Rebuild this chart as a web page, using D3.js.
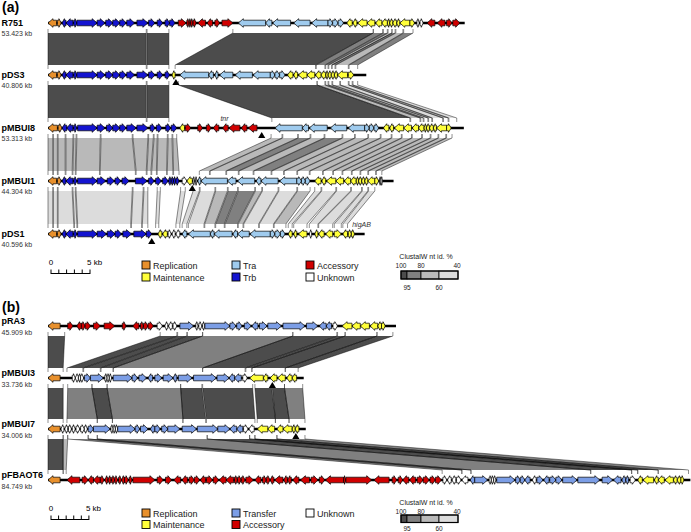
<!DOCTYPE html>
<html><head><meta charset="utf-8">
<script src="https://cdn.jsdelivr.net/npm/d3@7"></script>
<style>body{margin:0;background:#fff}svg{display:block}text{font-family:"Liberation Sans",Arial,Helvetica,sans-serif}</style>
</head><body><svg id="c" width="691" height="532"></svg>
<script>
// ---------------- DATA (kb) : [start, end, strand, category] ----------------
const R751_genes = [[0,1.1,-1,"R"],[1.2,1.7,1,"R"],
[1.8,2.3,-1,"B"],[2.3,3.2,-1,"B"],[3.3,3.7,1,"B"],[3.7,6.3,1,"B"],[6.3,7.3,1,"B"],[7.4,8.3,1,"B"],[8.3,9.2,1,"B"],[9.2,10.0,1,"B"],[10.1,11.1,1,"B"],[11.4,12.8,1,"B"],[12.9,13.7,1,"B"],[14.0,14.7,1,"B"],[15.0,15.6,1,"B"],[15.6,16.3,1,"B"],
[16.7,17.7,1,"A"],[17.8,18.1,1,"A"],[18.1,18.3,1,"A"],[18.3,18.6,1,"A"],[18.6,19.0,1,"A"],[19.2,20.2,-1,"A"],[20.4,21.1,-1,"A"],[21.4,22.0,1,"A"],[22.3,23.7,1,"A"],
[24.4,27.9,-1,"T"],[27.9,28.7,-1,"T"],[28.8,31.1,-1,"T"],[31.5,33.6,-1,"T"],[33.8,35.9,-1,"T"],[35.9,36.5,1,"T"],[36.5,37.2,1,"T"],[37.2,37.9,1,"T"],
[38.3,39.0,-1,"M"],[39.1,39.6,-1,"M"],[39.7,40.9,-1,"M"],[40.9,41.9,-1,"M"],[42.0,42.8,-1,"M"],[42.8,43.5,-1,"M"],[43.5,43.8,-1,"M"],[43.8,44.2,-1,"M"],[44.2,44.7,-1,"M"],[44.7,45.1,-1,"M"],[45.1,46.4,-1,"M"],[46.4,47.0,1,"M"],
[47.3,47.6,1,"U"],[47.7,48.1,1,"U"],
[48.6,49.6,-1,"A"],[49.9,50.9,-1,"A"],[51.1,51.8,1,"A"],[51.9,52.8,1,"A"]];

const pDS3_genes = [[0,1.1,-1,"R"],[1.2,1.7,1,"R"],
[1.8,2.3,-1,"B"],[2.3,3.2,-1,"B"],[3.3,3.7,1,"B"],[3.7,6.3,1,"B"],[6.3,7.3,1,"B"],[7.4,8.3,1,"B"],[8.3,9.2,1,"B"],[9.2,10.0,1,"B"],[10.1,11.1,1,"B"],[11.4,12.8,1,"B"],[12.9,13.7,1,"B"],[14.0,14.7,1,"B"],[15.0,15.6,1,"B"],
[15.9,16.3,-1,"M"],
[16.9,20.6,-1,"T"],[20.6,21.2,-1,"T"],[21.4,21.8,-1,"T"],[22.0,23.7,-1,"T"],[24.0,26.2,-1,"T"],[26.3,28.5,-1,"T"],[28.5,29.1,1,"T"],[29.1,29.7,1,"T"],[29.7,30.4,1,"T"],
[30.7,31.4,-1,"M"],[31.5,32.0,-1,"M"],[32.1,33.2,-1,"M"],[33.2,34.2,-1,"M"],[34.3,35.0,-1,"M"],[35.0,35.6,-1,"M"],[35.6,35.9,-1,"M"],[35.9,36.3,-1,"M"],[36.3,36.7,-1,"M"],[36.7,37.1,-1,"M"],[37.1,38.4,-1,"M"],[38.5,39.2,1,"M"]];

const pMBUI8_genes = [[0,1.2,-1,"R"],[1.3,1.8,1,"R"],
[1.8,2.4,-1,"B"],[2.4,3.2,-1,"B"],[3.3,3.7,1,"B"],[3.8,6.3,1,"B"],[6.3,7.3,1,"B"],[7.5,8.3,1,"B"],[8.3,9.2,1,"B"],[9.2,10.0,1,"B"],[10.1,11.3,1,"B"],[11.4,12.8,1,"B"],[13.1,13.7,1,"B"],[13.9,14.6,1,"B"],[15.1,15.7,1,"B"],[15.8,16.5,1,"B"],
[16.9,17.5,-1,"M"],
[17.6,18.3,1,"A"],[19.2,19.8,1,"A"],[20.3,20.9,1,"A"],[21.2,21.9,-1,"A"],[22.4,23.1,-1,"A"],[23.2,24.6,-1,"A"],[24.8,25.5,-1,"A"],[25.7,26.8,-1,"A"],
[29.1,32.6,-1,"T"],[32.6,33.4,-1,"T"],[33.5,35.8,-1,"T"],[36.2,38.3,-1,"T"],[38.5,40.6,-1,"T"],[40.6,41.2,1,"T"],[41.2,41.8,1,"T"],[41.8,42.4,1,"T"],
[43.0,43.7,-1,"M"],[43.8,44.3,-1,"M"],[44.4,45.6,-1,"M"],[45.6,46.6,-1,"M"],[46.7,47.5,-1,"M"],[47.5,48.2,-1,"M"],[48.2,48.5,-1,"M"],[48.5,48.9,-1,"M"],[48.9,49.4,-1,"M"],[49.4,49.8,-1,"M"],[49.8,51.1,-1,"M"],[51.1,51.7,1,"M"]];

const pMBUI1_genes = [[0,1.1,-1,"R"],[1.2,1.7,1,"R"],
[1.8,2.3,-1,"B"],[2.3,3.2,-1,"B"],[3.3,3.7,1,"B"],[3.8,6.3,1,"B"],[6.3,7.4,1,"B"],[7.6,8.5,1,"B"],[8.6,9.3,1,"B"],[9.5,10.4,1,"B"],[11.2,12.7,1,"B"],[12.9,13.6,1,"B"],[13.8,14.5,1,"B"],[14.7,15.4,1,"B"],[15.5,15.8,1,"B"],[15.8,16.1,1,"B"],[16.1,16.4,1,"B"],[16.4,16.8,1,"B"],
[17.2,17.8,1,"U"],[17.8,18.5,-1,"M"],[18.6,18.8,1,"U"],[18.9,19.1,1,"U"],
[19.2,19.6,-1,"T"],[19.6,23.0,-1,"T"],[23.0,24.1,-1,"T"],[24.3,26.5,-1,"T"],[26.7,27.3,-1,"T"],[27.3,29.5,-1,"T"],[29.7,31.9,-1,"T"],[31.9,32.5,1,"T"],[32.5,33.0,1,"T"],[33.0,33.6,1,"T"],
[34.2,35.0,-1,"M"],[35.1,35.6,-1,"M"],[35.7,36.9,-1,"M"],[36.9,37.9,-1,"M"],[38.0,38.8,-1,"M"],[38.8,39.5,-1,"M"],[39.5,39.8,-1,"M"],[39.8,40.2,-1,"M"],[40.2,40.6,-1,"M"],[40.6,41.0,-1,"M"],[41.0,41.9,-1,"M"],[41.9,42.4,1,"M"],
[42.5,42.7,1,"U"],[42.7,42.9,1,"U"]];

const pDS1_genes = [[0,1.1,-1,"R"],[1.2,1.7,1,"R"],
[1.8,2.3,-1,"B"],[2.3,3.2,-1,"B"],[3.3,3.7,1,"B"],[3.8,6.3,1,"B"],[6.3,7.5,1,"B"],[7.6,8.6,1,"B"],[8.6,9.4,1,"B"],[9.6,10.7,1,"B"],[11.0,12.6,1,"B"],[12.6,13.3,1,"B"],
[14.1,14.6,-1,"M"],[14.7,15.3,-1,"M"],[15.4,15.8,1,"U"],[15.9,16.3,-1,"U"],[16.4,16.9,-1,"U"],
[17.2,17.8,-1,"T"],[18.0,20.8,-1,"T"],[20.8,21.3,-1,"T"],[21.3,23.6,-1,"T"],[23.7,24.3,-1,"T"],[24.3,25.8,-1,"T"],[25.9,28.5,-1,"T"],[28.5,29.1,1,"T"],[29.1,29.8,1,"T"],[29.8,30.4,1,"T"],
[30.8,31.3,-1,"M"],[31.5,31.9,-1,"M"],[32.1,33.2,-1,"M"],[33.5,33.8,-1,"U"],[34.2,34.6,-1,"M"],[34.7,35.4,-1,"M"],[35.6,36.5,-1,"M"],[36.7,37.6,1,"M"],[37.8,38.4,-1,"M"],[38.5,38.9,1,"M"],[38.9,39.3,1,"M"]];

const pRA3_genes = [[0,1.6,-1,"R"],
[2.6,3.3,1,"A"],[3.8,4.4,-1,"A"],[4.4,4.9,1,"A"],[4.9,5.6,1,"A"],[6.0,6.9,1,"A"],[7.4,8.8,1,"A"],[9.8,10.3,1,"A"],[11.2,12.0,-1,"A"],[12.2,12.6,1,"A"],[12.6,13.2,1,"A"],[13.2,13.9,1,"A"],
[14.4,15.1,1,"U"],[15.4,15.8,-1,"U"],[15.9,16.4,-1,"U"],[16.5,17.0,1,"U"],
[17.4,19.2,1,"P"],[19.5,19.8,1,"U"],[19.9,20.3,1,"U"],[20.4,20.7,1,"U"],[20.7,24.0,1,"P"],[24.0,24.8,1,"P"],[24.9,25.6,1,"P"],[25.9,26.8,1,"P"],[26.9,27.7,-1,"P"],[27.9,28.9,1,"P"],[29.0,30.8,1,"P"],[31.0,33.9,1,"P"],[34.1,35.6,1,"P"],[35.8,36.7,-1,"P"],[36.7,37.4,-1,"P"],
[37.6,38.2,1,"U"],
[38.8,40.1,-1,"M"],[40.1,41.2,-1,"M"],[41.2,42.4,-1,"M"],[42.5,43.5,-1,"M"],[43.5,44.0,-1,"M"],[44.0,44.5,1,"M"]];

const pMBUI3_genes = [[0,1.6,-1,"R"],
[3.2,3.6,1,"U"],[3.6,4.0,-1,"U"],[4.0,4.3,-1,"U"],[4.3,4.7,1,"U"],
[4.8,5.6,1,"P"],[5.6,7.3,1,"P"],[7.5,7.8,1,"U"],[7.8,8.1,1,"U"],[8.1,8.4,1,"U"],[8.6,11.1,1,"P"],[11.1,11.8,1,"P"],[12.0,13.0,1,"P"],[13.2,13.8,-1,"P"],[14.1,15.0,1,"P"],[15.2,16.5,1,"P"],[16.5,17.0,-1,"P"],[17.2,19.0,1,"P"],[19.2,22.2,1,"P"],[22.3,23.9,1,"P"],[23.9,24.6,-1,"P"],[24.6,25.5,-1,"P"],
[25.7,26.3,1,"U"],
[26.6,28.4,-1,"M"],[28.4,29.0,-1,"M"],[29.3,30.2,-1,"M"],[30.3,31.3,-1,"M"],[31.5,32.2,-1,"M"],[32.2,32.8,-1,"M"]];

const pMBUI7_genes = [[0,1.6,-1,"R"],
[1.7,2.1,-1,"U"],[2.2,2.6,-1,"U"],[2.7,3.1,1,"U"],[3.2,3.6,1,"U"],[3.7,4.2,1,"U"],[4.3,4.8,1,"U"],[4.8,5.2,1,"U"],
[5.3,6.0,1,"P"],[6.0,8.2,1,"P"],[8.3,8.6,1,"U"],[8.6,8.9,1,"U"],[8.9,9.2,1,"U"],[9.2,11.5,1,"P"],[11.5,12.1,1,"P"],[12.2,13.2,1,"P"],[13.5,14.1,-1,"P"],[14.1,14.8,1,"P"],[15.0,15.8,1,"P"],[15.8,17.4,1,"P"],[17.7,19.6,1,"P"],[19.7,22.4,1,"P"],[22.4,24.0,1,"P"],[24.0,24.9,-1,"P"],[24.9,25.7,-1,"P"],
[25.8,26.4,1,"U"],[26.5,27.2,-1,"U"],
[27.6,29.0,-1,"M"],[29.0,29.9,-1,"M"],[30.2,31.0,-1,"M"],[31.0,32.2,-1,"M"],[32.2,32.6,-1,"M"],[32.6,33.1,-1,"M"]];

const pFBAOT6_genes = [[0,1.6,-1,"R"],
[2.5,4.2,-1,"A"],[4.5,5.3,1,"A"],[5.3,6.0,-1,"A"],[6.0,6.9,-1,"A"],[6.9,7.4,1,"A"],
[7.5,7.9,-1,"A"],[7.9,8.3,-1,"A"],[8.4,8.8,1,"A"],[8.8,9.2,1,"A"],[9.3,9.7,1,"A"],[9.7,10.1,-1,"A"],[10.1,10.6,1,"A"],[10.7,11.1,1,"A"],
[11.2,14.1,1,"A"],[14.4,15.2,1,"A"],[15.5,16.3,1,"A"],[16.6,17.5,-1,"A"],[17.7,18.4,-1,"A"],[18.6,19.3,1,"A"],[19.3,20.0,1,"A"],[20.1,20.8,-1,"A"],[20.9,21.7,1,"A"],[21.8,22.5,1,"A"],[22.6,23.5,-1,"A"],[23.5,24.5,-1,"A"],[24.6,25.0,1,"A"],[25.0,25.5,1,"A"],[25.5,26.0,1,"A"],[26.1,27.1,1,"A"],[27.3,28.1,-1,"A"],[28.3,28.8,1,"A"],[28.8,29.3,1,"A"],[29.3,29.8,-1,"A"],[29.9,31.0,-1,"A"],[31.1,31.6,-1,"A"],[31.6,32.1,-1,"A"],[32.3,33.1,-1,"A"],[33.3,34.5,-1,"A"],[34.7,35.6,1,"A"],[35.8,36.5,1,"A"],[36.6,39.0,-1,"A"],[39.0,39.3,1,"A"],[39.3,42.7,1,"A"],[43.0,45.0,-1,"A"],[45.4,46.0,1,"A"],[46.2,46.8,1,"A"],[46.8,47.6,-1,"A"],[47.7,48.5,-1,"A"],[48.7,49.5,1,"A"],[49.5,50.3,1,"A"],[50.4,51.1,1,"A"],[51.1,51.9,1,"A"],
[52.1,52.6,1,"U"],[52.7,53.2,-1,"U"],[53.3,53.8,-1,"U"],[53.9,54.5,1,"U"],[54.6,55.4,-1,"U"],
[55.7,56.3,-1,"P"],[56.3,58.0,1,"P"],[58.2,58.5,1,"U"],[58.5,58.8,1,"U"],[58.8,59.1,1,"U"],[59.2,61.6,1,"P"],[61.7,62.3,1,"P"],[62.3,62.9,1,"P"],[62.9,63.6,-1,"P"],[63.9,64.4,-1,"U"],[64.5,65.3,1,"P"],[65.4,66.1,-1,"P"],[66.2,67.0,1,"P"],[67.0,67.8,1,"P"],[67.9,69.8,1,"P"],[69.9,72.8,1,"P"],[73.1,74.5,1,"P"],[74.6,75.6,-1,"P"],[75.7,76.2,-1,"P"],[76.2,76.6,-1,"P"],[76.8,77.5,1,"U"],
[77.8,78.4,-1,"M"],[78.5,79.9,-1,"M"],[80.0,80.5,-1,"M"],[80.5,81.3,-1,"M"],[81.4,82.5,-1,"M"],[82.5,83.0,-1,"M"],[83.0,83.5,-1,"M"],[83.5,83.9,1,"M"]];

// alignment blocks: [upperStart, upperEnd, lowerStart, lowerEnd, % identity]
const blocks_R751_pDS3 = [[0,12.6,0,12.6,98],[12.7,15.5,12.7,15.5,98],[23.7,41.7,16.3,34.3,97],[41.7,42.9,34.4,35.5,88],[43.0,43.5,35.6,35.9,88],[43.6,44.1,36.0,36.4,70],[44.1,44.5,36.4,36.8,88],[44.6,45.5,36.9,38.5,70],[45.6,46.8,38.6,39.7,88]];
const blocks_pDS3_pMBUI8 = [[0,12.6,0,12.6,98],[12.7,15.5,12.7,15.5,98],[16.7,34.5,28.7,46.4,97],[34.5,35.5,46.5,47.7,70],[35.6,35.9,47.8,48.1,70],[36.0,36.4,48.2,48.7,50],[36.5,37.4,48.8,49.2,70],[37.5,38.5,49.3,50.6,50],[38.6,39.0,50.7,51.3,70],[39.1,39.7,51.4,52.4,50]];
const blocks_pMBUI8_pMBUI1 = [[0,0.6,0,0.6,70],[0.7,1.2,0.7,1.2,70],[1.3,2.2,1.3,2.2,70],[2.3,3.2,2.3,3.1,70],[3.3,3.6,3.2,3.5,70],[3.7,6.7,3.6,6.6,70],[6.8,10.8,6.7,11.2,70],[10.9,12.8,11.3,12.6,70],[12.9,13.5,12.7,13.2,70],[13.6,14.0,13.3,13.9,70],[14.1,15.3,14.0,15.2,70],[15.4,15.9,15.3,16.0,70],[16.0,16.5,16.1,16.8,70],
[28.6,30.0,19.4,20.7,70],[30.1,32.0,20.8,22.8,70],[32.1,33.6,22.9,24.4,85],[33.7,35.4,24.5,26.3,70],[35.5,37.7,26.4,28.6,85],[37.8,39.3,28.7,30.2,70],[39.4,41.0,30.3,31.9,70],[41.1,42.6,32.0,33.5,70],[42.7,44.0,33.6,35.2,70],[44.1,45.3,35.3,36.5,70],[45.4,46.6,36.6,37.7,70],[46.7,47.9,37.8,38.9,70],[48.0,49.0,39.0,40.0,70],[49.1,50.0,40.1,41.0,70],[50.1,51.0,41.1,42.0,70],[51.1,51.8,42.1,42.8,70]];
const blocks_pMBUI1_pDS1 = [[0,0.6,0,0.6,50],[0.7,1.2,0.7,1.2,50],[1.3,3.1,1.3,3.3,50],[3.2,3.5,3.4,3.7,50],[3.6,10.8,3.8,10.6,50],[10.9,12.2,10.7,12.0,50],[12.3,12.8,12.1,12.8,50],[14.0,14.4,13.8,14.2,50],
[17.0,17.6,16.4,16.9,50],[18.6,19.4,17.2,17.8,50],[19.5,21.4,18.0,20.0,50],[21.5,23.0,20.1,21.4,70],[23.1,24.3,21.5,22.6,85],[24.4,26.5,22.7,24.3,85],[26.6,27.4,24.4,25.0,70],[27.5,29.5,25.1,27.0,50],[29.6,31.9,27.1,28.9,50],[32.0,33.6,29.0,30.5,70],[34.2,35.0,30.8,31.3,50],[35.1,36.9,31.5,33.2,50],[37.0,38.8,33.5,34.6,50],[38.9,40.2,34.7,36.5,50],[40.3,41.0,36.7,37.6,50],[41.1,41.9,37.8,38.4,50]];

const blocks_pRA3_pMBUI3 = [[0,2.2,0,2.0,98],[14.8,17.0,2.5,4.6,97],[17.1,18.3,4.7,6.9,97],[18.4,20.4,7.0,8.6,97],[20.4,32.3,8.6,20.4,88],[32.3,38.1,20.4,26.0,97],[38.2,39.2,26.1,26.9,97],[39.2,43.4,26.9,31.3,97],[43.4,45.5,31.3,33.0,97]];
const blocks_pMBUI3_pMBUI7 = [[0,2.0,0,2.0,98],[2.6,5.8,2.5,6.5,88],[5.8,7.8,6.5,8.5,97],[7.8,17.5,8.5,17.8,88],[17.5,20.3,17.8,20.8,97],[20.4,27.0,20.9,27.3,97],[27.3,29.5,27.6,30.0,97],[29.6,31.2,30.0,31.8,97],[31.2,33.6,31.8,33.9,88]];
const blocks_pMBUI7_pFBAOT6 = [[0,2.0,0,2.0,98],[2.0,2.6,2.0,2.4,70],[2.6,5.3,52.0,54.6,88],[5.3,6.5,54.6,55.8,88],[6.5,21.0,55.8,71.6,88],[21.0,26.6,71.6,77.0,96],[26.6,27.3,77.0,77.8,88],[27.3,30.2,77.8,80.5,96],[30.2,33.9,80.5,84.5,88]];

const panelA_names = ["R751","pDS3","pMBUI8","pMBUI1","pDS1"];
const panelA_sizes = [53.423,40.806,53.313,44.304,40.596];
const panelB_names = ["pRA3","pMBUI3","pMBUI7","pFBAOT6"];
const panelB_sizes = [45.909,33.736,34.006,84.749];
const panelA_markers = [["pDS3",16.4],["pMBUI8",27.4],["pMBUI1",18.5],["pDS1",13.3]];
const panelB_markers = [["pMBUI3",29.6],["pMBUI7",32.7]];
const panelA_notes = [["pMBUI8","tnr",22.1],["pDS1","higAB",39.0]];
const legendA = [["Replication","R"],["Maintenance","M"],["Tra","T"],["Trb","B"],["Accessory","A"],["Unknown","U"]];
const legendB = [["Replication","R"],["Maintenance","M"],["Transfer","P"],["Accessory","A"],["Unknown","U"]];
const idTopLabels = ["100","80","40"];
const idBottomLabels = ["95","60"];

// ---------------- RENDER ----------------
const svg = d3.select("#c");
const catColor = {R:"#e8902c",M:"#ffff3a",T:"#9fcbee",B:"#1414d0",A:"#d00000",U:"#ffffff",P:"#7c9ee6"};
const idColor = d3.scaleThreshold().domain([60,80,95]).range(["#dcdcdc","#b9b9b9","#808080","#4c4c4c"]);

function genePath(x1,x2,s,y){
  const w=x2-x1,h=2.8,H=4.3,hl=Math.min(5,w*0.6);
  if(s>0) return `M${x1},${y-h}L${x2-hl},${y-h}L${x2-hl},${y-H}L${x2},${y}L${x2-hl},${y+H}L${x2-hl},${y+h}L${x1},${y+h}Z`;
  return `M${x2},${y-h}L${x1+hl},${y-h}L${x1+hl},${y-H}L${x1},${y}L${x1+hl},${y+H}L${x1+hl},${y+h}L${x2},${y+h}Z`;
}

function drawPanel(p){
  const maxL=d3.max(p.sizes);
  const x=d3.scaleLinear().domain([0,maxL]).range([48,48+maxL*p.pxPerKb]);
  const g=svg.append("g");
  p.blocks.forEach((bl,i)=>{
    const yt=p.rows[i]+10, yb=p.rows[i+1]-10;
    g.append("g").selectAll("path").data(bl).join("path")
      .attr("d",d=>`M${x(d[0])},${yt}L${x(d[1])},${yt}L${x(d[3])},${yb}L${x(d[2])},${yb}Z`)
      .attr("fill",d=>idColor(d[4])).attr("stroke","none");
    const edges=[];
    bl.forEach(d=>{edges.push([d[0],d[2]]);edges.push([d[1],d[3]]);});
    g.append("g").selectAll("line").data(edges).join("line")
      .attr("x1",d=>x(d[0])).attr("y1",yt).attr("x2",d=>x(d[1])).attr("y2",yb)
      .attr("stroke","#000").attr("stroke-width",0.45);
    g.append("g").selectAll("line").data(edges).join("line")
      .attr("x1",d=>x(d[0])).attr("x2",d=>x(d[0])).attr("y1",yt-4).attr("y2",yt)
      .attr("stroke","#222").attr("stroke-width",0.5);
    g.append("g").selectAll("line").data(edges).join("line")
      .attr("x1",d=>x(d[1])).attr("x2",d=>x(d[1])).attr("y1",yb).attr("y2",yb+4)
      .attr("stroke","#222").attr("stroke-width",0.5);
  });
  p.names.forEach((n,i)=>{
    const y=p.rows[i];
    g.append("line").attr("x1",x(0)).attr("x2",x(p.sizes[i])).attr("y1",y).attr("y2",y)
      .attr("stroke","#000").attr("stroke-width",2.4);
    g.append("g").selectAll("path").data(p.genes[i]).join("path")
      .attr("d",d=>genePath(x(d[0]),x(d[1]),d[2],y))
      .attr("fill",d=>catColor[d[3]]).attr("stroke","#000").attr("stroke-width",0.7).attr("stroke-linejoin","miter");
    g.append("text").attr("x",1.5).attr("y",y+p.nameDy).attr("font-size",9).attr("font-weight","bold").text(n);
    g.append("text").attr("x",1.5).attr("y",y+p.sizeDy).attr("font-size",7).attr("fill","#333").text(p.sizes[i].toFixed(3)+" kb");
  });
  p.markers.forEach(m=>{
    const i=p.names.indexOf(m[0]),y=p.rows[i],cx=x(m[1]);
    g.append("path").attr("d",`M${cx},${y+4}L${cx-3.6},${y+10}L${cx+3.6},${y+10}Z`).attr("fill","#000");
  });
  (p.notes||[]).forEach(m=>{
    const i=p.names.indexOf(m[0]),y=p.rows[i];
    g.append("text").attr("x",x(m[2])).attr("y",y-7).attr("font-size",7).attr("font-style","italic").attr("fill","#333").text(m[1]);
  });
  g.append("text").attr("x",2).attr("y",p.letterY).attr("font-size",14).attr("font-weight","bold").text(p.letter);
  // scale bar
  const L=p.scaleY;
  g.append("text").attr("x",x(0)+3).attr("y",L).attr("font-size",8).attr("text-anchor","middle").text("0");
  g.append("text").attr("x",x(5)).attr("y",L).attr("font-size",8).text("5 kb");
  g.append("line").attr("x1",x(0)+3).attr("x2",x(5)+3).attr("y1",L+8.5).attr("y2",L+8.5).attr("stroke","#000").attr("stroke-width",1);
  g.append("g").selectAll("line").data(d3.range(0,6)).join("line")
    .attr("x1",d=>x(d)+3).attr("x2",d=>x(d)+3).attr("y1",L+4.5).attr("y2",L+9).attr("stroke","#000").attr("stroke-width",1);
  // category legend
  const cols=[142,232,306];
  p.legend.forEach((it,k)=>{
    const c=p.legendCols[k], r=p.legendRows[k];
    const lx=cols[c], ly=p.legendY+r*p.legendGap;
    g.append("rect").attr("x",lx).attr("y",ly).attr("width",8).attr("height",8)
      .attr("fill",catColor[it[1]]).attr("stroke","#000").attr("stroke-width",0.9);
    g.append("text").attr("x",lx+11).attr("y",ly+7.5).attr("font-size",9).attr("fill","#222").text(it[0]);
  });
  // identity legend
  const C=p.clustal;
  g.append("text").attr("x",426).attr("y",C[0]).attr("font-size",7).attr("text-anchor","middle").attr("fill","#222").text("ClustalW nt id. %");
  const cellX=[401,407,421,439,458], ids=[97,88,70,50];
  ids.forEach((v,k)=>{
    g.append("rect").attr("x",cellX[k]).attr("y",C[2]).attr("width",cellX[k+1]-cellX[k]).attr("height",C[3])
      .attr("fill",idColor(v)).attr("stroke","#000").attr("stroke-width",0.8);
  });
  g.append("rect").attr("x",401).attr("y",C[2]).attr("width",57).attr("height",C[3]).attr("fill","none").attr("stroke","#000").attr("stroke-width",1.2);
  [401,421,457].forEach((px,k)=>g.append("text").attr("x",px).attr("y",C[1]).attr("font-size",6.5).attr("text-anchor","middle").attr("fill","#222").text(idTopLabels[k]));
  [407,439].forEach((px,k)=>g.append("text").attr("x",px).attr("y",C[4]).attr("font-size",6.5).attr("text-anchor","middle").attr("fill","#222").text(idBottomLabels[k]));
}

drawPanel({letter:"(a)",letterY:12,names:panelA_names,sizes:panelA_sizes,
  genes:[R751_genes,pDS3_genes,pMBUI8_genes,pMBUI1_genes,pDS1_genes],
  blocks:[blocks_R751_pDS3,blocks_pDS3_pMBUI8,blocks_pMBUI8_pMBUI1,blocks_pMBUI1_pDS1],
  rows:[23,75,128,181,234],pxPerKb:7.8,nameDy:2.5,sizeDy:13,
  markers:panelA_markers,notes:panelA_notes,legend:legendA,
  legendCols:[0,0,1,1,2,2],legendRows:[0,1,0,1,0,1],scaleY:265,legendY:261,legendGap:12,
  clustal:[258.5,268,271,8,289.5]});

drawPanel({letter:"(b)",letterY:312,names:panelB_names,sizes:panelB_sizes,
  genes:[pRA3_genes,pMBUI3_genes,pMBUI7_genes,pFBAOT6_genes],
  blocks:[blocks_pRA3_pMBUI3,blocks_pMBUI3_pMBUI7,blocks_pMBUI7_pFBAOT6],
  rows:[326,378,429,480],pxPerKb:7.58,nameDy:-2,sizeDy:9,
  markers:panelB_markers,notes:[],legend:legendB,
  legendCols:[0,0,1,1,2],legendRows:[0,1,0,1,0],scaleY:511,legendY:509,legendGap:11.5,
  clustal:[504.5,513.5,515,7.5,530.5]});
</script></body></html>
